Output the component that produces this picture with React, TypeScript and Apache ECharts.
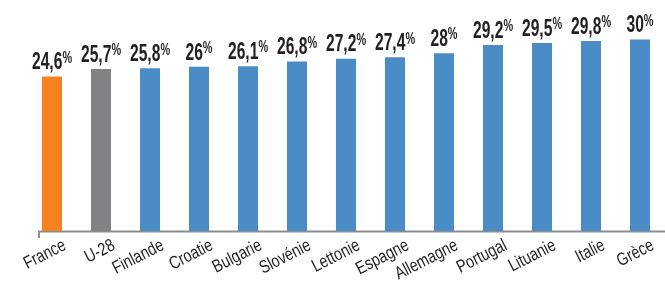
import React, { useEffect, useRef } from "react";
import * as echarts from "echarts";

const categories = ["France", "U-28", "Finlande", "Croatie", "Bulgarie", "Slovénie", "Lettonie", "Espagne", "Allemagne", "Portugal", "Lituanie", "Italie", "Grèce"];
const values = [24.6, 25.7, 25.8, 26, 26.1, 26.8, 27.2, 27.4, 28, 29.2, 29.5, 29.8, 30];

const Y_MIN = 2;
const Y_MAX = 33;
const ORANGE = "#F5821F";
const GREY = "#808285";
const BLUE = "#4A8CC6";
const TEXT = "#231F20";
const FONT = "'Liberation Sans', Arial, sans-serif";

export default function App() {
  const ref = useRef<HTMLDivElement>(null);
  useEffect(() => {
    if (!ref.current) return;
    const chart = echarts.init(ref.current, null, { renderer: "svg" });
    chart.setOption({
      animation: false,
      grid: { left: 27.5, right: 0.5, top: 19, bottom: 51 },
      xAxis: {
        type: "category",
        data: categories,
        axisLine: { show: false },
        axisTick: { show: false },
        axisLabel: { show: false },
      },
      yAxis: { type: "value", min: Y_MIN, max: Y_MAX, show: false, splitLine: { show: false } },
      series: [
        {
          type: "bar",
          data: values.map((v, i) => ({
            value: v,
            itemStyle: { color: i === 0 ? ORANGE : i === 1 ? GREY : BLUE },
          })),
          barWidth: 20,
        },
        {
          type: "custom",
          clip: false,
          silent: true,
          data: values.map((v, i) => [i, v]),
          encode: { x: 0, y: 1 },
          renderItem: (params: any, api: any) => {
            const v = api.value(1);
            const pt = api.coord([api.value(0), v]);
            return {
              type: "text",
              x: pt[0],
              y: pt[1] - 4,
              scaleX: 0.68,
              style: {
                text: `{n|${String(v).replace(".", ",")}}{p|%}`,
                align: "center",
                verticalAlign: "bottom",
                rich: {
                  n: { fontFamily: FONT, fontWeight: "bold", fontSize: 23, fill: TEXT },
                  p: { fontFamily: FONT, fontWeight: "bold", fontSize: 16, fill: TEXT, verticalAlign: "top" },
                },
              },
            };
          },
        },
        {
          type: "custom",
          clip: false,
          silent: true,
          data: categories.map((c, i) => [i, Y_MIN]),
          encode: { x: 0, y: 1 },
          renderItem: (params: any, api: any) => {
            const idx = api.value(0);
            const pt = api.coord([idx, api.value(1)]);
            return {
              type: "text",
              x: pt[0] + 8,
              y: pt[1] + 4,
              rotation: (27 * Math.PI) / 180,
              scaleX: 0.8,
              style: {
                text: categories[idx],
                fontFamily: FONT,
                fontSize: 18,
                fill: TEXT,
                align: "right",
                verticalAlign: "top",
              },
            };
          },
        },
      ],
      graphic: [
        { type: "line", shape: { x1: 38, y1: 231.5, x2: 665, y2: 231.5 }, style: { stroke: "#8C8C8C", lineWidth: 2 } },
        { type: "line", shape: { x1: 39, y1: 231, x2: 39, y2: 238 }, style: { stroke: "#8C8C8C", lineWidth: 2 } },
      ],
    });
    return () => chart.dispose();
  }, []);
  return <div ref={ref} style={{ position: "fixed", left: 0, top: 0, width: 665, height: 282 }} />;
}
